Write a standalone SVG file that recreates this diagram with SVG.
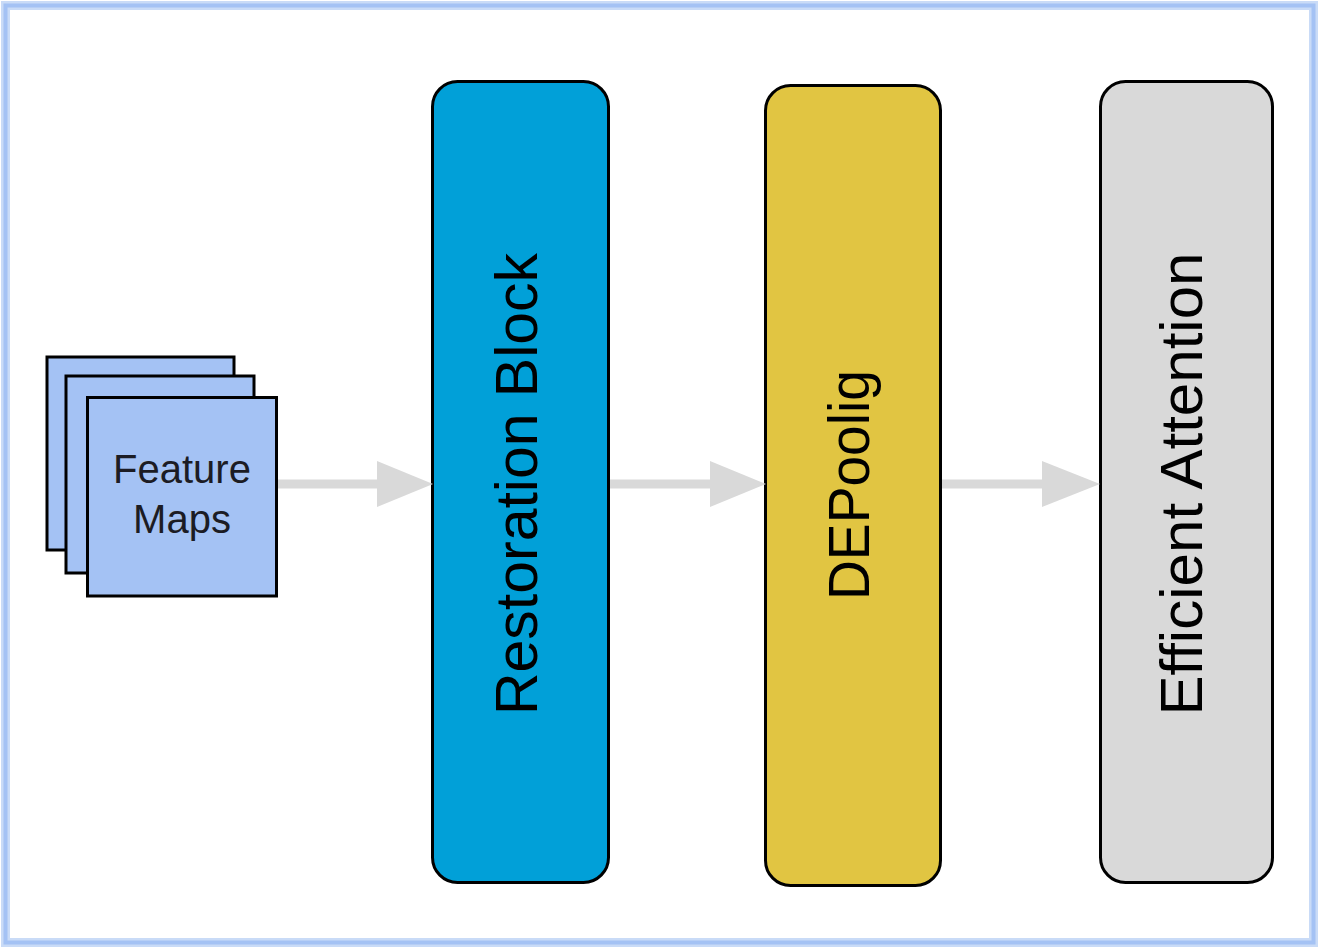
<svg xmlns="http://www.w3.org/2000/svg" width="1320" height="949" viewBox="0 0 1320 949">
  <style>
    .fm { fill: #a4c2f4; stroke: #000000; stroke-width: 3; }
    .blk { stroke: #000000; stroke-width: 3; }
    .lbl { font-family: "Liberation Sans", Arial, sans-serif; fill: #000000; text-anchor: middle; }
    .fmt { font-family: "Liberation Sans", Arial, sans-serif; fill: #1c1c24; text-anchor: middle; font-size: 40px; }
    .conn { stroke: #d9d9d9; stroke-width: 9; fill: none; }
    .head { fill: #d9d9d9; stroke: none; }
  </style>
  <rect x="0" y="0" width="1320" height="949" fill="#ffffff"/>
  <g id="frame">
    <rect x="5.5" y="5.5" width="1308" height="937" fill="none" stroke="#c9dbf7" stroke-width="9"/>
    <rect x="5.5" y="5.5" width="1308" height="937" fill="none" stroke="#a4c2f4" stroke-width="4"/>
  </g>
  <g id="feature-maps">
    <rect class="fm" x="47" y="357" width="187" height="193"/>
    <rect class="fm" x="66" y="376" width="188" height="197"/>
    <rect class="fm" x="87.5" y="397.5" width="189" height="198.5"/>
    <text class="fmt" x="182" y="483">Feature</text>
    <text class="fmt" x="182" y="533">Maps</text>
  </g>
  <g id="restoration-block">
    <rect class="blk" x="432.5" y="81.5" width="176" height="801" rx="25" ry="25" fill="#01a0d8"/>
    <text class="lbl" font-size="59" textLength="462" lengthAdjust="spacingAndGlyphs" transform="translate(537,484) rotate(-90)">Restoration Block</text>
  </g>
  <g id="depoolig">
    <rect class="blk" x="765.5" y="85.5" width="175" height="800" rx="25" ry="25" fill="#e1c542"/>
    <text class="lbl" font-size="58" textLength="230" lengthAdjust="spacingAndGlyphs" transform="translate(869,485) rotate(-90)">DEPoolig</text>
  </g>
  <g id="efficient-attention">
    <rect class="blk" x="1100.5" y="81.5" width="172" height="801" rx="25" ry="25" fill="#d9d9d9"/>
    <text class="lbl" font-size="59" textLength="463" lengthAdjust="spacingAndGlyphs" transform="translate(1202,484) rotate(-90)">Efficient Attention</text>
  </g>
  <g id="connectors">
    <line class="conn" x1="278" y1="484" x2="390" y2="484"/>
    <polygon class="head" points="377,461 433,484 377,507"/>
    <line class="conn" x1="610" y1="484" x2="722" y2="484"/>
    <polygon class="head" points="710,461 766,484 710,507"/>
    <line class="conn" x1="942" y1="484" x2="1054" y2="484"/>
    <polygon class="head" points="1042,461 1100,484 1042,507"/>
  </g>
</svg>
